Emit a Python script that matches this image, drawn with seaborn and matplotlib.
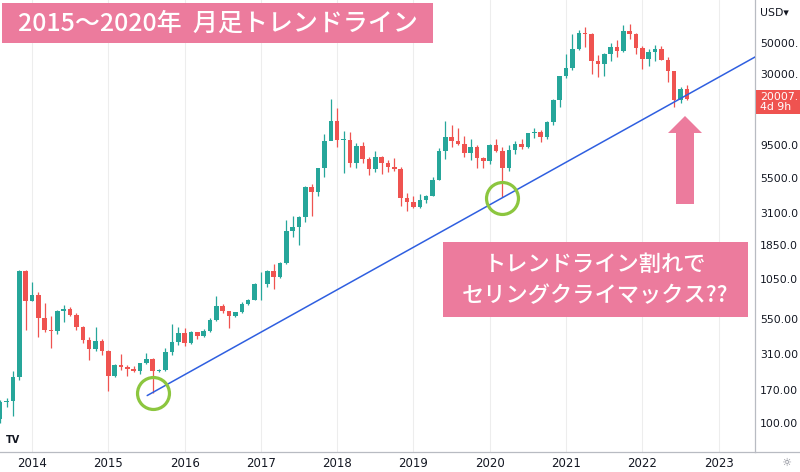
import numpy as np
import pandas as pd
import matplotlib
matplotlib.use("Agg")
import matplotlib.pyplot as plt
import seaborn as sns
from matplotlib.patches import Rectangle, Polygon
from matplotlib.ticker import NullLocator, FixedLocator, FixedFormatter

# ---------------- data (monthly BTC/USD, Aug 2013 .. Aug 2022) ----------------
start_year, start_month = 2013, 8
opens = [106, 140, 143, 213, 1200, 738, 809, 553, 456, 447, 626, 640,
         581, 482, 387, 336, 381, 325, 216, 257, 248, 240, 232, 264,
         285, 232, 237, 317, 377, 432, 368, 440, 414, 451, 537, 676,
         622, 570, 610, 698, 750, 965, 970, 1190, 1085, 1361, 2307, 2476,
         2891, 4735, 4380, 6440, 10090, 13990, 10250, 10330, 7000, 9335, 7515, 6370,
         7800, 7060, 6630, 6350, 3980, 3730, 3404, 3837, 4111, 5322, 8610, 10810,
         10080, 9590, 8316, 9185, 7600, 7260, 9440, 8550, 6440, 8700, 9550, 9185,
         11430, 11700, 10800, 13840, 19720, 29240, 33500, 45300, 58900, 57700, 37600, 35400,
         41700, 47200, 44000, 61400, 57800, 46500, 38800, 43400, 45500, 38000, 31900, 19720,
         23500]
highs = [145, 150, 234, 1220, 1220, 1000, 850, 710, 574, 635, 687, 667,
         605, 490, 408, 477, 391, 330, 260, 308, 257, 254, 268, 312,
         287, 241, 338, 503, 482, 474, 448, 443, 465, 555, 796, 700,
         625, 615, 720, 760, 985, 1186, 1210, 1340, 1390, 2766, 2960, 2930,
         4800, 5000, 6470, 11400, 19900, 17200, 11800, 11700, 9750, 10000, 7780, 8500,
         7850, 7400, 7680, 6570, 4300, 4070, 4200, 4150, 5600, 9000, 13990, 13200,
         12400, 10900, 10400, 9500, 7750, 9600, 10500, 9200, 9400, 10080, 10400, 11450,
         12480, 12080, 14100, 19900, 29300, 41950, 58350, 61700, 64900, 59500, 41300, 42400,
         50500, 52900, 67000, 69000, 59100, 47900, 45800, 48200, 47400, 40000, 31950, 24600,
         25200]
lows = [100, 130, 111, 200, 456, 730, 405, 440, 341, 428, 522, 570,
        460, 370, 279, 324, 305, 168, 212, 237, 215, 229, 222, 260,
        163, 228, 235, 305, 355, 354, 364, 391, 410, 440, 530, 605,
        474, 565, 605, 690, 745, 750, 920, 890, 1065, 1355, 2100, 1830,
        2670, 2970, 4100, 5560, 10800, 9200, 6000, 6600, 6500, 7030, 5800, 6080,
        5900, 6100, 6200, 3500, 3190, 3350, 3390, 3680, 4080, 5300, 7500, 9100,
        9400, 7730, 7400, 6520, 6450, 6900, 8450, 4000, 6170, 8130, 8900, 8970,
        10530, 9850, 10400, 13200, 17600, 28130, 32300, 44950, 47000, 30000, 28800, 29300,
        37300, 39600, 43300, 53300, 42000, 33000, 34300, 37200, 37700, 26700, 17600, 18800,
        19600]
closes = [141, 143, 213, 1200, 738, 809, 553, 456, 447, 626, 640, 581,
          482, 387, 336, 381, 325, 216, 257, 248, 240, 232, 264, 285,
          232, 237, 317, 377, 432, 368, 440, 414, 451, 537, 676, 622,
          570, 610, 698, 750, 965, 970, 1190, 1085, 1361, 2307, 2476, 2891,
          4735, 4380, 6440, 10090, 13990, 10250, 10330, 7000, 9335, 7515, 6370, 7800,
          7060, 6630, 6350, 3980, 3730, 3404, 3837, 4111, 5322, 8610, 10810, 10080,
          9590, 8316, 9185, 7600, 7260, 9440, 8550, 6440, 8700, 9550, 9185, 11430,
          11700, 10800, 13840, 19720, 29240, 33500, 45300, 58900, 57700, 37600, 35400, 41700,
          47200, 44000, 61400, 57800, 46500, 38800, 43400, 45500, 38000, 31900, 19720, 23500,
          20007]

year_ticks = [2014, 2015, 2016, 2017, 2018, 2019, 2020, 2021, 2022, 2023]
price_ticks = [100, 170, 310, 550, 1050, 1850, 3100, 5500, 9500, 30000, 50000]
price_labels = ["100.00", "170.00", "310.00", "550.00", "1050.0", "1850.0",
                "3100.0", "5500.0", "9500.0", "30000.", "50000."]

trend_x = [2015.51, 2023.48]
trend_y = [156, 40000]
circle_x = [2015.59, 2020.155]
circle_y = [162, 3990]

title_text = "2015～2020年  月足トレンドライン"
note_line1 = "トレンドライン割れで"
note_line2 = "セリングクライマックス??"
last_price = "20007."
countdown = "4d 9h"

# ---------------- style ----------------
sns.set_theme(style="white")
plt.rcParams["font.family"] = ["DejaVu Sans", "Noto Sans CJK JP"]

UP = "#26A69A"
DOWN = "#EF5350"
PINK = "#EC7B9D"
W, H = 800, 472
JP = ["Noto Sans CJK JP", "DejaVu Sans"]

fig = plt.figure(figsize=(8, 4.72), dpi=100)
fig.patch.set_facecolor("white")
ax = fig.add_axes([0, 20 / H, 755 / W, 452 / H])
ax.set_facecolor("white")

n = len(opens)
x = start_year + (start_month - 1) / 12 + np.arange(n) / 12
o = np.array(opens, float)
c = np.array(closes, float)
hi = np.array(highs, float)
lo = np.array(lows, float)
cols = [UP if cc >= oo else DOWN for oo, cc in zip(o, c)]

ax.set_yscale("log")
ax.vlines(x, lo, hi, colors=cols, lw=0.9, zorder=3)
bottom = np.minimum(o, c)
height = np.maximum(np.abs(c - o), bottom * 0.012)
ax.bar(x, height, bottom=bottom, width=0.06, color=cols, linewidth=0, zorder=4)

trend = pd.DataFrame({"x": trend_x, "y": trend_y})
sns.lineplot(data=trend, x="x", y="y", ax=ax, color="#2F5FE0", lw=1.1, zorder=5)

ax.plot(circle_x, circle_y, ls="none", marker="o", ms=23, mfc="none",
        mec="#8CC63F", mew=2.3, zorder=6)

ax.set_xlim(2013.581, 2023.476)
ax.set_ylim(61.9, 101480)
ax.set_xlabel("")
ax.set_ylabel("")

ax.xaxis.set_major_locator(FixedLocator(year_ticks))
ax.set_xticklabels([str(v) for v in year_ticks])
ax.yaxis.tick_right()
ax.yaxis.set_major_locator(FixedLocator(price_ticks))
ax.yaxis.set_major_formatter(FixedFormatter(price_labels))
ax.yaxis.set_minor_locator(NullLocator())
ax.xaxis.set_minor_locator(NullLocator())
ax.tick_params(axis="y", length=0, pad=3.8, labelsize=7.8, labelcolor="#131722")
ax.tick_params(axis="x", length=0, pad=3.5, labelsize=8.5, labelcolor="#131722")
ax.grid(axis="x", color="#EDEDED", lw=0.8, zorder=0)
ax.grid(axis="y", visible=False)

for s in ["top", "left"]:
    ax.spines[s].set_visible(False)
for s in ["right", "bottom"]:
    ax.spines[s].set_color("#B8BBC2")
    ax.spines[s].set_linewidth(0.9)


def fx(px):
    return px / W


def fy(py):
    return 1 - py / H


# bottom line continuing under price scale
fig.add_artist(plt.Line2D([fx(755), fx(800)], [fy(452), fy(452)],
                          transform=fig.transFigure, color="#B8BBC2", lw=0.9))

# title box
fig.add_artist(Rectangle((fx(2), fy(43)), (433 - 2) / W, 40 / H,
                         transform=fig.transFigure, color=PINK, lw=0, zorder=10))
fig.text(fx(217.5), fy(23.5), title_text, color="white", fontsize=18, weight="medium",
         ha="center", va="center", family=JP, zorder=11)

# annotation box
fig.add_artist(Rectangle((fx(443), fy(317)), (748 - 443) / W, (317 - 242) / H,
                         transform=fig.transFigure, color=PINK, lw=0, zorder=10))
fig.text(fx(595.5), fy(264), note_line1, color="white", fontsize=16, weight="medium",
         ha="center", va="center", family=JP, zorder=11)
fig.text(fx(595.5), fy(296), note_line2, color="white", fontsize=16, weight="medium",
         ha="center", va="center", family=JP, zorder=11)

# up arrow
arrow_pts = [(676, 204), (694, 204), (694, 133), (702, 133), (685, 116),
             (668, 133), (676, 133)]
fig.add_artist(Polygon([(fx(a), fy(b)) for a, b in arrow_pts], closed=True,
                       transform=fig.transFigure, color=PINK, lw=0, zorder=10))

# price tag
fig.add_artist(Rectangle((fx(755.5), fy(113.5)), (800 - 755.5) / W, 23.5 / H,
                         transform=fig.transFigure, color="#EF5350", lw=0, zorder=10))
fig.text(fx(760), fy(96.5), last_price, color="white", fontsize=7.8,
         ha="left", va="center", zorder=11)
fig.text(fx(760), fy(107.5), countdown, color="white", fontsize=7.8,
         ha="left", va="center", zorder=11)

# currency label, logo, settings icon
fig.text(fx(760), fy(12.7), "USD▾", color="#131722", fontsize=7.8, ha="left", va="center")
fig.text(fx(13), fy(440), "TV", color="#131722", fontsize=7, weight="bold",
         ha="center", va="center")
fig.text(fx(786), fy(463), "☼", color="#787B86", fontsize=8, ha="center", va="center")

fig.savefig("out.png", dpi=100)
